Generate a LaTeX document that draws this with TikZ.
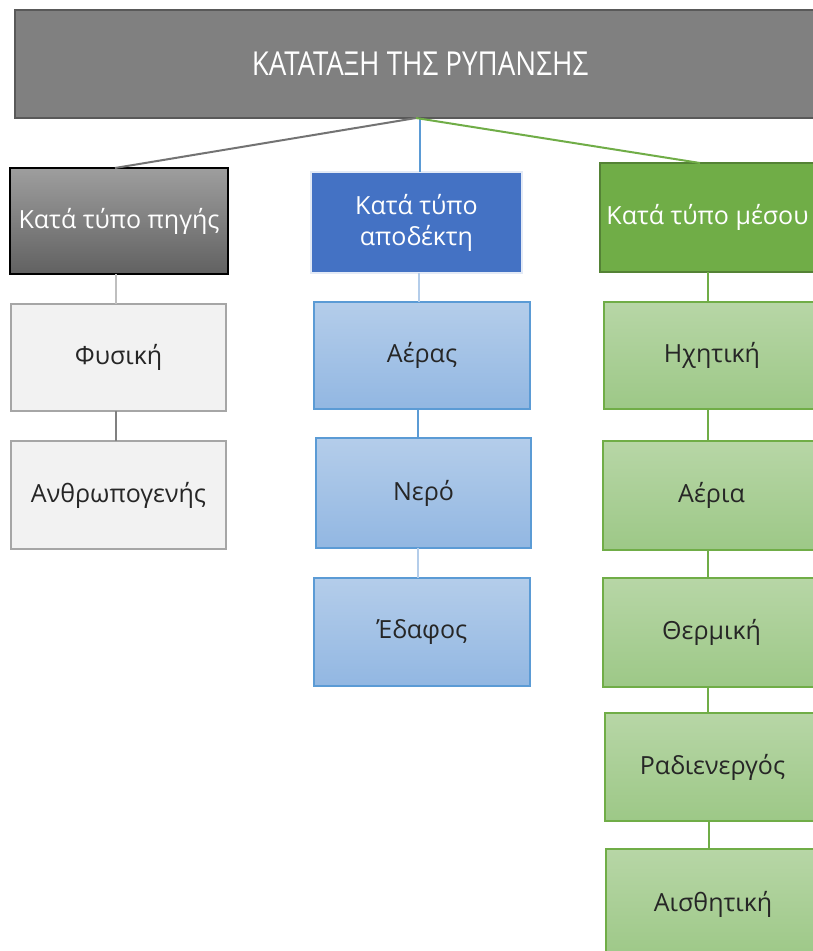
\documentclass[tikz,border=0pt]{standalone}
\usepackage{fontspec}
\setmainfont{Open Sans}
\newfontfamily\headfont[FakeStretch=0.84]{Open Sans}
\begin{document}
\begin{tikzpicture}[x=1pt,y=-1pt,
  box/.style={draw, line width=1.4pt, inner sep=0pt, outer sep=0pt, anchor=north west,
    align=center, font=\fontsize{25}{31}\selectfont},
  grayleaf/.style={box, draw=black!35, fill=black!5, text=black!85},
  blueleaf/.style={box, top color=blueA, bottom color=blueB, draw=blueE, text=black!85},
  greenleaf/.style={box, top color=greenA, bottom color=greenB, draw=greenE, text=black!85},
  link/.style={line width=2.5pt}
]
\definecolor{blueA}{HTML}{B4CDEA}
\definecolor{blueB}{HTML}{92B7E2}
\definecolor{blueE}{HTML}{5B9BD5}
\definecolor{blueH}{HTML}{4472C4}
\definecolor{greenA}{HTML}{B7D6A6}
\definecolor{greenB}{HTML}{9DC887}
\definecolor{greenE}{HTML}{70AD47}
\definecolor{greenD}{HTML}{548235}
\useasboundingbox (0,0) rectangle (813,951);
\fill[white] (0,0) rectangle (813,951);

% root
\node[box, draw=black!65, fill=black!50, text=white, minimum width=810pt, minimum height=108pt,
  font=\headfont\fontsize{33}{38}\selectfont] (root) at (15,10) {ΚΑΤΑΤΑΞΗ ΤΗΣ ΡΥΠΑΝΣΗΣ};
\coordinate (rootb) at (416,118);

% category headers
\node[box, draw=black, top color=black!38, bottom color=black!62, text=white,
  minimum width=218pt, minimum height=106pt] (src) at (10,168) {Κατά τύπο πηγής};
\node[box, draw=white!85!blueH, fill=blueH, text=white,
  minimum width=211pt, minimum height=101pt] (rec) at (311,172) {Κατά τύπο\\αποδέκτη};
\node[box, draw=greenD, fill=greenE, text=white,
  minimum width=215pt, minimum height=109pt] (med) at (600,163) {Κατά τύπο μέσου};

% source types
\node[grayleaf, minimum width=215pt, minimum height=107pt] (fys) at (11,304) {Φυσική};
\node[grayleaf, minimum width=215pt, minimum height=108pt] (anth) at (11,441) {Ανθρωπογενής};

% receiver types
\node[blueleaf, minimum width=216pt, minimum height=107pt] (aer) at (314,302) {Αέρας};
\node[blueleaf, minimum width=215pt, minimum height=110pt] (ner) at (316,438) {Νερό};
\node[blueleaf, minimum width=216pt, minimum height=108pt] (edaf) at (314,578) {Έδαφος};

% medium types
\node[greenleaf, minimum width=216pt, minimum height=107pt] (ichi) at (604,302) {Ηχητική};
\node[greenleaf, minimum width=217pt, minimum height=109pt] (aeria) at (603,441) {Αέρια};
\node[greenleaf, minimum width=217pt, minimum height=109pt] (therm) at (603,578) {Θερμική};
\node[greenleaf, minimum width=215pt, minimum height=108pt] (rad) at (605,713) {Ραδιενεργός};
\node[greenleaf, minimum width=214pt, minimum height=110pt] (aisth) at (606,849) {Αισθητική};

% connectors from the root
\draw[link, line width=2pt, black!55] (rootb) -- (src.north -| 115,0);
\draw[link, line width=1.8pt, blueE] (rootb -| 420,0) -- (rec.north -| 420,0);
\draw[link, line width=2pt, greenE] (rootb) -- (med.north -| 700,0);

% vertical connectors
\draw[link, black!25] (src.south -| 116,0) -- (fys.north -| 116,0);
\draw[link, black!50] (fys.south -| 116,0) -- (anth.north -| 116,0);
\draw[link, blueA] (rec.south -| 419,0) -- (aer.north -| 419,0);
\draw[link, blueE] (aer.south -| 418,0) -- (ner.north -| 418,0);
\draw[link, blueA] (ner.south -| 418,0) -- (edaf.north -| 418,0);
\draw[link, greenE] (med.south -| 708,0) -- (ichi.north -| 708,0);
\draw[link, greenE] (ichi.south -| 708,0) -- (aeria.north -| 708,0);
\draw[link, greenE] (aeria.south -| 708,0) -- (therm.north -| 708,0);
\draw[link, greenE] (therm.south -| 708,0) -- (rad.north -| 708,0);
\draw[link, greenE] (rad.south -| 709,0) -- (aisth.north -| 709,0);
\end{tikzpicture}
\end{document}
